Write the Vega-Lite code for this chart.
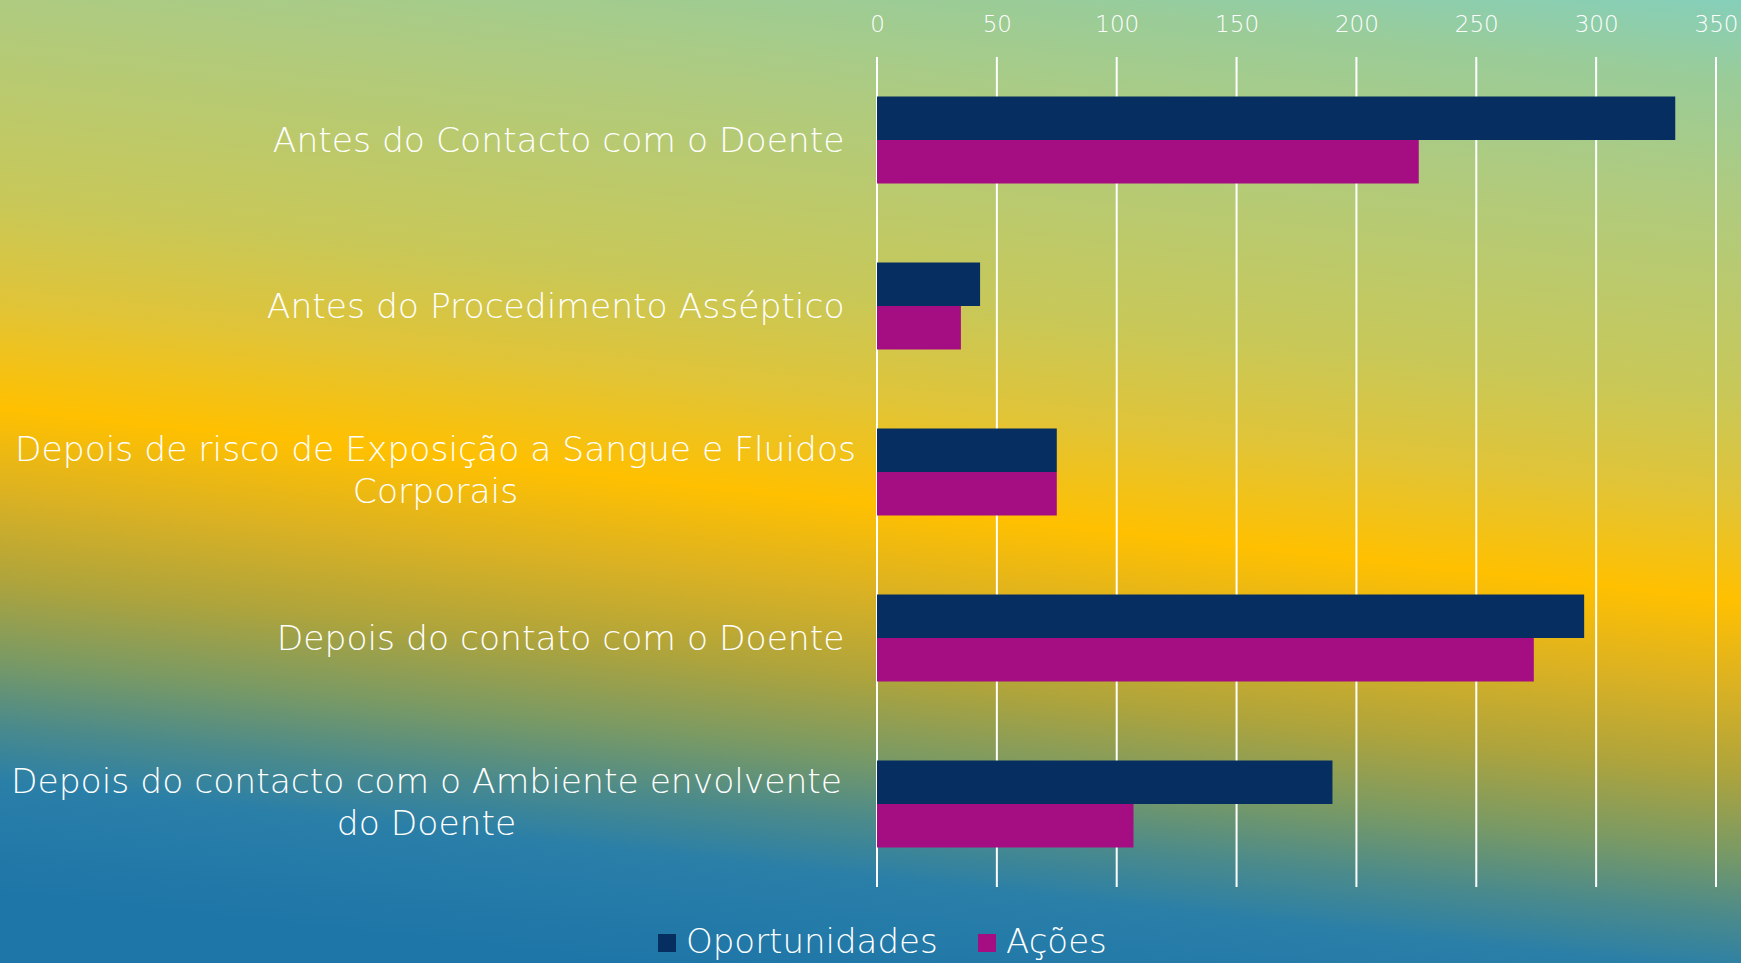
{
  "$schema": "https://vega.github.io/schema/vega-lite/v6.json",
  "width": 839,
  "height": 830,
  "autosize": {"type": "none"},
  "padding": {"left": 877, "top": 57, "right": 25, "bottom": 76},
  "background": "#1e76a8",
  "config": {"view": {"stroke": null}},
  "layer": [
    {
      "data": {"values": [{"bg": 1}]},
      "mark": {
        "type": "rect",
        "clip": false,
        "fill": {
          "gradient": "linear",
          "x1": 0.62, "y1": -0.1, "x2": 0.4, "y2": 1.0,
          "stops": [
            {"offset": 0.0, "color": "#7ed0c6"},
            {"offset": 0.1, "color": "#9acc98"},
            {"offset": 0.2, "color": "#aecb80"},
            {"offset": 0.38, "color": "#c8c858"},
            {"offset": 0.47, "color": "#e0c438"},
            {"offset": 0.565, "color": "#ffc000"},
            {"offset": 0.64, "color": "#dcb222"},
            {"offset": 0.72, "color": "#aea43c"},
            {"offset": 0.79, "color": "#7a9a64"},
            {"offset": 0.85, "color": "#4a8a8c"},
            {"offset": 0.9, "color": "#2a7fa8"},
            {"offset": 1.0, "color": "#1e76a8"}
          ]
        }
      },
      "encoding": {
        "x": {"datum": -1.06, "type": "quantitative", "scale": {"domain": [0, 1], "zero": false}, "axis": null},
        "x2": {"datum": 1.04},
        "y": {"datum": 1.075, "type": "quantitative", "scale": {"domain": [0, 1], "zero": false}, "axis": null},
        "y2": {"datum": -0.1}
      }
    },
    {
      "data": {"values": [{"tick": 0}, {"tick": 50}, {"tick": 100}, {"tick": 150}, {"tick": 200}, {"tick": 250}, {"tick": 300}, {"tick": 350}]},
      "mark": {"type": "rule", "color": "white", "strokeWidth": 2},
      "encoding": {
        "x": {"field": "tick", "type": "quantitative", "scale": {"domain": [0, 350]}, "axis": null}
      }
    },
    {
      "data": {
        "values": [
          {"category": "Antes do Contacto com o Doente", "series": "Oportunidades", "value": 333},
          {"category": "Antes do Contacto com o Doente", "series": "Ações", "value": 226},
          {"category": "Antes do Procedimento Asséptico", "series": "Oportunidades", "value": 43},
          {"category": "Antes do Procedimento Asséptico", "series": "Ações", "value": 35},
          {"category": "Depois de risco de Exposição a Sangue e Fluidos Corporais", "series": "Oportunidades", "value": 75},
          {"category": "Depois de risco de Exposição a Sangue e Fluidos Corporais", "series": "Ações", "value": 75},
          {"category": "Depois do contato com o Doente", "series": "Oportunidades", "value": 295},
          {"category": "Depois do contato com o Doente", "series": "Ações", "value": 274},
          {"category": "Depois do contacto com o Ambiente envolvente do Doente", "series": "Oportunidades", "value": 190},
          {"category": "Depois do contacto com o Ambiente envolvente do Doente", "series": "Ações", "value": 107}
        ]
      },
      "mark": {"type": "bar"},
      "encoding": {
        "y": {
          "field": "category",
          "type": "nominal",
          "sort": null,
          "title": null,
          "scale": {"paddingInner": 0.476, "paddingOuter": 0.238},
          "axis": {
            "zindex": 1,
            "domain": false,
            "ticks": false,
            "grid": false,
            "labelColor": "white",
            "labelFont": "DejaVu Sans",
            "labelFontWeight": 200,
            "labelFontSize": 34.5,
            "labelLineHeight": 42,
            "labelLimit": 2000,
            "labelBaseline": "middle",
            "labelAlign": {"condition": {"test": "length(datum.value) > 40", "value": "center"}, "value": "right"},
            "labelOffset": {"condition": {"test": "length(datum.value) > 40", "value": -21}, "value": 2},
            "labelPadding": {"condition": [
              {"test": "datum.value == 'Depois de risco de Exposição a Sangue e Fluidos Corporais'", "value": 442},
              {"test": "datum.value == 'Depois do contacto com o Ambiente envolvente do Doente'", "value": 451}
            ], "value": 33},
            "labelExpr": "datum.value == 'Depois de risco de Exposição a Sangue e Fluidos Corporais' ? ['Depois de risco de Exposição a Sangue e Fluidos', 'Corporais'] : datum.value == 'Depois do contacto com o Ambiente envolvente do Doente' ? ['Depois do contacto com o Ambiente envolvente', 'do Doente'] : datum.value"
          }
        },
        "yOffset": {"field": "series", "type": "nominal", "sort": ["Oportunidades", "Ações"]},
        "x": {
          "field": "value",
          "type": "quantitative",
          "title": null,
          "scale": {"domain": [0, 350]},
          "axis": {
            "zindex": 1,
            "orient": "top",
            "values": [0, 50, 100, 150, 200, 250, 300, 350],
            "grid": false,
            "domain": false,
            "ticks": false,
            "labelFlush": false,
            "labelColor": "white",
            "labelFont": "DejaVu Sans",
            "labelFontWeight": 200,
            "labelFontSize": 23,
            "labelBaseline": "middle",
            "labelPadding": 33
          }
        },
        "color": {
          "field": "series",
          "type": "nominal",
          "scale": {"domain": ["Oportunidades", "Ações"], "range": ["#062e61", "#a50e82"]},
          "legend": {
            "title": null,
            "orient": "none",
            "legendX": -227,
            "legendY": 869,
            "direction": "horizontal",
            "symbolType": "square",
            "symbolSize": 324,
            "symbolStrokeWidth": 0,
            "labelColor": "white",
            "labelFont": "DejaVu Sans",
            "labelFontWeight": 200,
            "labelFontSize": 34,
            "labelLimit": 1000,
            "labelOffset": 2,
            "columnPadding": 32,
            "padding": 0
          }
        }
      }
    }
  ],
  "resolve": {"scale": {"x": "independent", "y": "independent"}, "axis": {"x": "independent", "y": "independent"}}
}
